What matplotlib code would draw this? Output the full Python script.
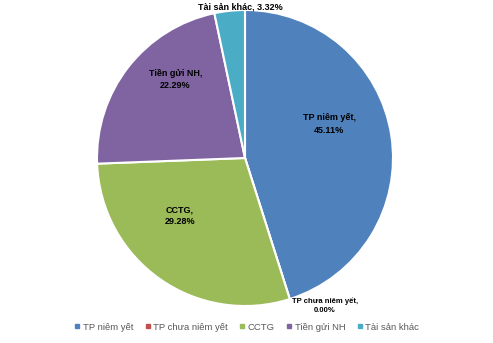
import matplotlib
matplotlib.use("Agg")
import matplotlib.pyplot as plt
from matplotlib.lines import Line2D

categories = ["TP niêm yết", "TP chưa niêm yết", "CCTG", "Tiền gửi NH", "Tài sản khác"]
values = [45.11, 0.00, 29.28, 22.29, 3.32]
colors = ["#4F81BD", "#C0504D", "#9BBB59", "#8064A2", "#4BACC6"]
label_pos = [(0.57, 0.23), (0.54, -0.995), (-0.44, -0.39), (-0.47, 0.53), (-0.03, 1.02)]
label_text = ["TP niêm yết,\n45.11%", "TP chưa niêm yết,\n0.00%", "CCTG,\n29.28%",
              "Tiền gửi NH,\n22.29%", "Tài sản khác, 3.32%"]

fig = plt.figure(figsize=(4.93, 3.43), dpi=100)
cx, cy, r = 245, 158, 148
ax = fig.add_axes([(cx - r) / 493, (343 - cy - r) / 343, 2 * r / 493, 2 * r / 343])
ax.pie(values, colors=colors, startangle=90, counterclock=False,
       wedgeprops=dict(edgecolor="white", linewidth=1.5))
ax.set_xlim(-1, 1)
ax.set_ylim(-1, 1)
ax.set_aspect("equal")
ax.axis("off")

for (x, y), t in zip(label_pos, label_text):
    fs = 5.5 if t.startswith("TP chưa") else 6.5
    ax.text(x, y, t, ha="center", va="center", fontsize=fs, fontweight="bold",
            color="black", linespacing=1.45, fontfamily="Liberation Sans")

handles = [Line2D([0], [0], marker="s", linestyle="none", markersize=3,
                  markerfacecolor=c, markeredgecolor=c) for c in colors]
fig.legend(handles, categories, loc="center", bbox_to_anchor=(247 / 493, 1 - 327 / 343),
           ncol=5, frameon=False, handlelength=0.5, handletextpad=0.35,
           columnspacing=1.25, labelcolor="#595959", prop={"family": "Liberation Sans", "size": 6.8})

fig.savefig("out.png", dpi=100)
